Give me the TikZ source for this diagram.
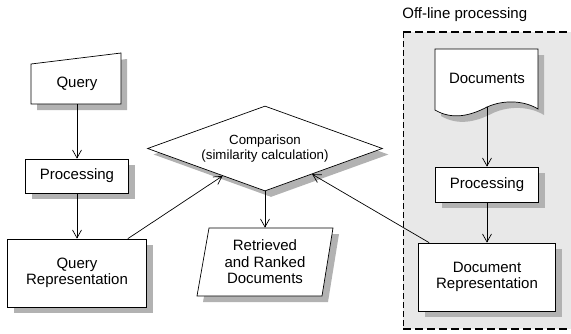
\documentclass[tikz,border=0pt]{standalone}
\usepackage{fontspec}
\setmainfont{Liberation Sans}
\usetikzlibrary{positioning}
\usetikzlibrary{shapes.geometric}
\usetikzlibrary{shadows}
\usetikzlibrary{arrows.meta}
\usetikzlibrary{calc}

\begin{document}
\begin{tikzpicture}[x=1pt, y=-1pt, line width=0.7pt,
  every node/.style={font=\fontsize{15}{16.5}\selectfont, align=center, inner sep=0pt},
  shadowed/.style={drop shadow={shadow xshift=6pt, shadow yshift=-6pt, fill=black!30, opacity=1}},
  box/.style={draw, fill=white, shadowed, rectangle},
  arr/.style={-{Straight Barb[length=8pt, width=9pt]}}]

\useasboundingbox (0,0) rectangle (571,333);

% off-line region
{
\fill[black!9] (403,32) rectangle (580,329);
\draw[line width=1.6pt, dash pattern=on 8pt off 4pt] (403,32) -- (580,32);
\draw[line width=1.6pt, dash pattern=on 8pt off 4pt] (403,329) -- (580,329);
\draw[line width=0.6pt, dash pattern=on 6pt off 3pt] (403,32) -- (403,329);

\node[anchor=west] (offlbl) at (402,15) {Off-line processing};
}

% shapes
{
\draw[fill=white, shadowed] (31,64) -- (121,53) -- (121,104) -- (31,104) -- cycle;
\draw[fill=white, shadowed] (435,49) -- (538,49) -- (538,109)
  .. controls (525,101) and (505,99) .. (487,107)
  .. controls (470,116) and (452,120) .. (435,110) -- cycle;
\draw[fill=white, shadowed] (209,228) -- (333,228) -- (322,296) -- (197,296) -- cycle;
}

% labellings
{
\node[minimum height=40pt] (query) at (77,84) {Query};
\node[box, minimum width=103pt, minimum height=34pt] (proc1) at (77,176) {Processing};
\node[box, minimum width=139pt, minimum height=68pt] (qrep) at (77,273) {Query\\Representation};

\node[diamond, aspect=2.76, draw, fill=white, shadowed, minimum width=235pt, minimum height=85pt,
  font=\fontsize{13.3}{14.5}\selectfont] (cmp) at (265,148.5) {Comparison\\(similarity calculation)};
\node[minimum width=120pt, minimum height=68pt] (ret) at (265,262) {Retrieved\\and Ranked\\Documents};

\node[minimum height=58pt] (docs) at (487,78) {Documents};
\node[box, minimum width=103pt, minimum height=35pt] (proc2) at (487,184.5) {Processing};
\node[box, minimum width=137pt, minimum height=68pt] (docrep) at (487,277) {Document\\Representation};
}

% arrows
{
\draw[arr] (query) -- (proc1);
\draw[arr] (proc1) -- (qrep);
\draw[arr] ([xshift=-19pt]qrep.north east) -- ($(cmp.west)!0.64!(cmp.south)$);
\draw[arr] (cmp) -- (ret);
\draw[arr] ([xshift=11pt]docrep.north west) -- ($(cmp.south)!0.4!(cmp.east)$);
\draw[arr] (docs) -- (proc2);
\draw[arr] (proc2) -- (docrep);
}

\end{tikzpicture}
\end{document}
